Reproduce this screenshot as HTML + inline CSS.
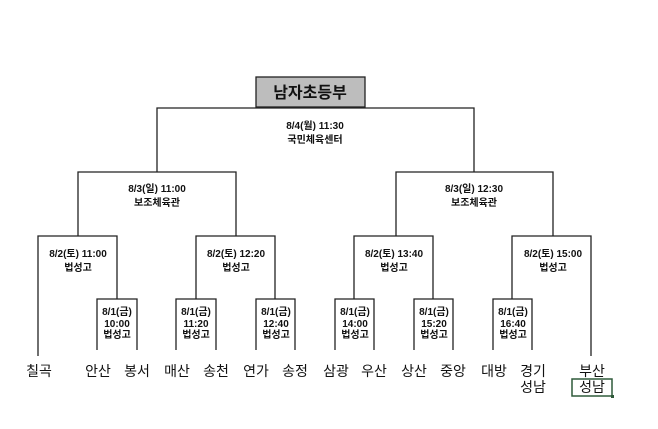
<!DOCTYPE html>
<html><head><meta charset="utf-8"><style>
body{margin:0;background:#fff;}
svg text{font-family:"Liberation Sans","Noto Sans CJK KR","NanumGothic",sans-serif;fill:#111;text-anchor:middle;}
.s{font-size:10px;font-weight:bold;}
.l{font-size:14px;}
</style></head><body>
<svg width="658" height="424" viewBox="0 0 658 424" xmlns="http://www.w3.org/2000/svg">
<g stroke="#222" stroke-width="1.3" fill="none">
<polyline points="157,172 157,108 474,108 474,172"/>
<polyline points="78,236 78,172 236,172 236,236"/>
<polyline points="396,236 396,172 553,172 553,236"/>
<polyline points="38,356 38,236 117,236 117,299"/>
<polyline points="196,299 196,236 275,236 275,299"/>
<polyline points="354,299 354,236 433,236 433,299"/>
<polyline points="512,299 512,236 591,236 591,356"/>
<polyline points="97,350 97,299 137,299 137,350"/>
<polyline points="176,350 176,299 216,299 216,350"/>
<polyline points="256,350 256,299 295,299 295,350"/>
<polyline points="335,350 335,299 374,299 374,350"/>
<polyline points="414,350 414,299 453,299 453,350"/>
<polyline points="493,350 493,299 532,299 532,350"/>
</g>
<rect x="256" y="77" width="109" height="30" fill="#bdbdbd" stroke="#222" stroke-width="1.3"/>
<text x="310" y="98" style="font-size:16px;font-weight:bold">남자초등부</text>
<text class="s" x="315" y="129">8/4(월) 11:30</text><text class="s" x="315" y="143">국민체육센터</text>
<text class="s" x="157" y="192">8/3(일) 11:00</text><text class="s" x="157" y="206">보조체육관</text>
<text class="s" x="474" y="192">8/3(일) 12:30</text><text class="s" x="474" y="206">보조체육관</text>
<text class="s" x="78" y="257">8/2(토) 11:00</text><text class="s" x="78" y="271">법성고</text>
<text class="s" x="236" y="257">8/2(토) 12:20</text><text class="s" x="236" y="271">법성고</text>
<text class="s" x="394" y="257">8/2(토) 13:40</text><text class="s" x="394" y="271">법성고</text>
<text class="s" x="553" y="257">8/2(토) 15:00</text><text class="s" x="553" y="271">법성고</text>
<g class="s">
<text class="s" x="117" y="315">8/1(금)</text><text class="s" x="117" y="327">10:00</text><text class="s" x="117" y="338">법성고</text>
<text class="s" x="196" y="315">8/1(금)</text><text class="s" x="196" y="327">11:20</text><text class="s" x="196" y="338">법성고</text>
<text class="s" x="276" y="315">8/1(금)</text><text class="s" x="276" y="327">12:40</text><text class="s" x="276" y="338">법성고</text>
<text class="s" x="355" y="315">8/1(금)</text><text class="s" x="355" y="327">14:00</text><text class="s" x="355" y="338">법성고</text>
<text class="s" x="434" y="315">8/1(금)</text><text class="s" x="434" y="327">15:20</text><text class="s" x="434" y="338">법성고</text>
<text class="s" x="513" y="315">8/1(금)</text><text class="s" x="513" y="327">16:40</text><text class="s" x="513" y="338">법성고</text>
</g>
<g class="l">
<text class="l" x="39" y="376">칠곡</text>
<text class="l" x="98" y="376">안산</text><text class="l" x="137" y="376">봉서</text>
<text class="l" x="177" y="376">매산</text><text class="l" x="216" y="376">송천</text>
<text class="l" x="256" y="376">연가</text><text class="l" x="295" y="376">송정</text>
<text class="l" x="336" y="376">삼광</text><text class="l" x="374" y="376">우산</text>
<text class="l" x="414" y="376">상산</text><text class="l" x="453" y="376">중앙</text>
<text class="l" x="494" y="376">대방</text><text class="l" x="533" y="376">경기</text>
<text class="l" x="533" y="392">성남</text>
<text class="l" x="592" y="376">부산</text>
<text class="l" x="592" y="392">성남</text>
</g>
<rect x="572" y="379" width="40" height="17" fill="none" stroke="#2f5a3a" stroke-width="1.5"/>
<rect x="611" y="395" width="3" height="3" fill="#2f5a3a"/>
</svg>
</body></html>
